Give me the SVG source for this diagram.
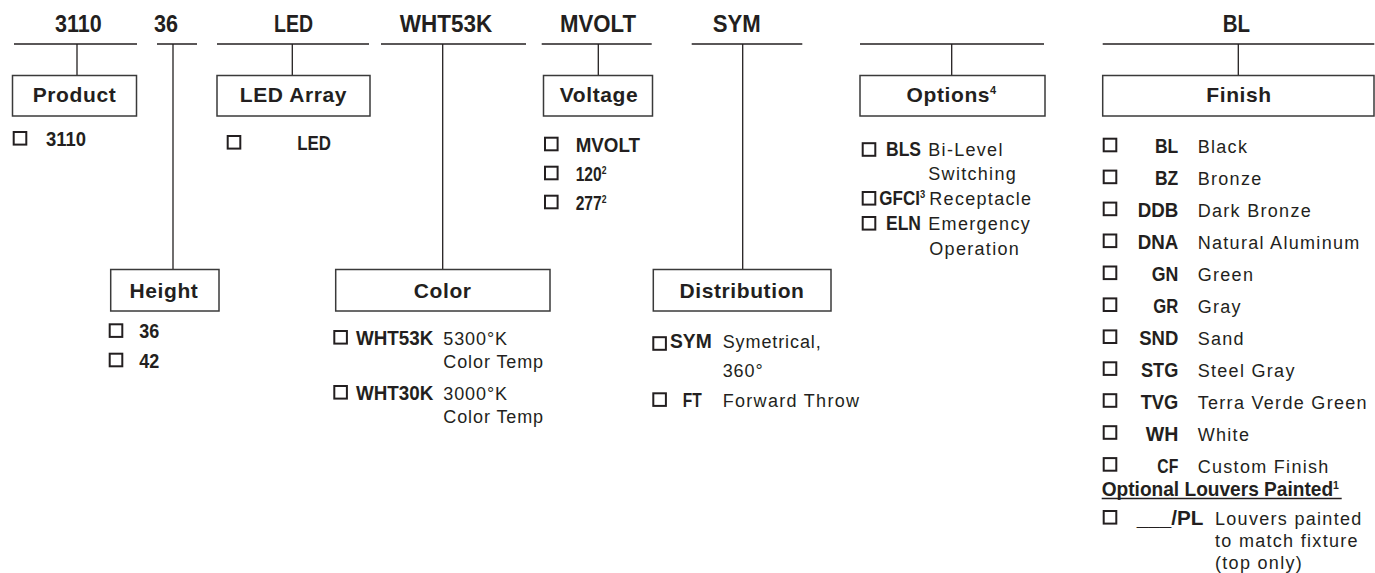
<svg xmlns="http://www.w3.org/2000/svg" width="1375" height="573" viewBox="0 0 1375 573">
<style>
text{font-family:"Liberation Sans",Arial,sans-serif;fill:#231f20}
.hd{font-size:24px;font-weight:bold;text-anchor:middle}
.bx{fill:#fff;stroke:#3a3a3a;stroke-width:1.5}
.bl{font-size:21px;font-weight:bold;text-anchor:middle;letter-spacing:0.6px}
.cb{fill:none;stroke:#231f20;stroke-width:2}
.code{font-size:20px;font-weight:bold}
.codeR{font-size:20px;font-weight:bold;text-anchor:end}
.d{font-size:18px;letter-spacing:1.3px}
.dc{font-size:18px;letter-spacing:0.9px}
.sup{font-size:11px;font-weight:bold}
#connectors line{stroke:#231f20;stroke-width:1.3}
</style>

<g id="connectors">
  <line x1="14" y1="44" x2="137" y2="44"/>
  <line x1="77" y1="44" x2="77" y2="75.5"/>
  <line x1="157" y1="44" x2="197" y2="44"/>
  <line x1="173" y1="44" x2="173" y2="269.5"/>
  <line x1="217" y1="44" x2="369" y2="44"/>
  <line x1="292.3" y1="44" x2="292.3" y2="75.5"/>
  <line x1="381" y1="44" x2="526" y2="44"/>
  <line x1="442.7" y1="44" x2="442.7" y2="269.5"/>
  <line x1="541.7" y1="44" x2="651.7" y2="44"/>
  <line x1="598.3" y1="44" x2="598.3" y2="75.5"/>
  <line x1="691.7" y1="44" x2="802.3" y2="44"/>
  <line x1="742.7" y1="44" x2="742.7" y2="269.5"/>
  <line x1="860" y1="44" x2="1044" y2="44"/>
  <line x1="951.7" y1="44" x2="951.7" y2="75.5"/>
  <line x1="1102.7" y1="44" x2="1374.3" y2="44"/>
  <line x1="1238.3" y1="44" x2="1238.3" y2="75.5"/>
</g>

<g id="headers">
  <text class="hd" x="78.3" y="32" textLength="46.7" lengthAdjust="spacingAndGlyphs">3110</text>
  <text class="hd" x="166" y="32" textLength="24" lengthAdjust="spacingAndGlyphs">36</text>
  <text class="hd" x="293.5" y="32" textLength="39" lengthAdjust="spacingAndGlyphs">LED</text>
  <text class="hd" x="446" y="32" textLength="92.3" lengthAdjust="spacingAndGlyphs">WHT53K</text>
  <text class="hd" x="598" y="32" textLength="76" lengthAdjust="spacingAndGlyphs">MVOLT</text>
  <text class="hd" x="736.7" y="32" textLength="48" lengthAdjust="spacingAndGlyphs">SYM</text>
  <text class="hd" x="1236.3" y="32" textLength="27.3" lengthAdjust="spacingAndGlyphs">BL</text>
</g>

<g id="product">
  <rect class="bx" x="12.5" y="75.5" width="124" height="40.5"/>
  <text class="bl" x="74.5" y="101.7">Product</text>
  <rect class="cb" x="13.7" y="132" width="12.6" height="12.6"/>
  <text class="code" x="46" y="145.7" textLength="40" lengthAdjust="spacingAndGlyphs">3110</text>
</g>

<g id="height">
  <rect class="bx" x="110.7" y="269.5" width="108.3" height="41.5"/>
  <text class="bl" x="164" y="297.7">Height</text>
  <rect class="cb" x="109.7" y="324.3" width="12.6" height="12.6"/>
  <text class="code" x="139.3" y="338.3" textLength="20" lengthAdjust="spacingAndGlyphs">36</text>
  <rect class="cb" x="109.7" y="353.7" width="12.6" height="12.6"/>
  <text class="code" x="139.3" y="367.7" textLength="20" lengthAdjust="spacingAndGlyphs">42</text>
</g>

<g id="led-array">
  <rect class="bx" x="217" y="75.5" width="153" height="40.5"/>
  <text class="bl" x="293.5" y="101.7">LED Array</text>
  <rect class="cb" x="227.7" y="136" width="12.6" height="12.6"/>
  <text class="code" x="297.3" y="150" textLength="33.7" lengthAdjust="spacingAndGlyphs">LED</text>
</g>

<g id="color">
  <rect class="bx" x="335.7" y="269.5" width="214.3" height="41.5"/>
  <text class="bl" x="442.7" y="297.7">Color</text>
  <rect class="cb" x="334.3" y="331" width="12.6" height="12.6"/>
  <text class="code" x="356" y="345" textLength="77.3" lengthAdjust="spacingAndGlyphs">WHT53K</text>
  <text class="dc" x="443.3" y="345">5300°K</text>
  <text class="dc" x="443.3" y="368.3">Color Temp</text>
  <rect class="cb" x="334.3" y="386" width="12.6" height="12.6"/>
  <text class="code" x="356" y="400" textLength="77.3" lengthAdjust="spacingAndGlyphs">WHT30K</text>
  <text class="dc" x="443.3" y="400">3000°K</text>
  <text class="dc" x="443.3" y="423.3">Color Temp</text>
</g>

<g id="voltage">
  <rect class="bx" x="543.5" y="75.5" width="109" height="40.5"/>
  <text class="bl" x="599" y="101.7">Voltage</text>
  <rect class="cb" x="545" y="137.7" width="12.6" height="12.6"/>
  <text class="code" x="575.7" y="151.7" textLength="64.3" lengthAdjust="spacingAndGlyphs">MVOLT</text>
  <rect class="cb" x="545" y="166.7" width="12.6" height="12.6"/>
  <text class="code" transform="translate(575.7 181) scale(0.78 1)">120<tspan class="sup" dy="-7.5">2</tspan></text>
  <rect class="cb" x="545" y="195.7" width="12.6" height="12.6"/>
  <text class="code" transform="translate(575.7 210) scale(0.78 1)">277<tspan class="sup" dy="-7.5">2</tspan></text>
</g>

<g id="distribution">
  <rect class="bx" x="653.3" y="269.5" width="177.7" height="41.5"/>
  <text class="bl" x="742" y="297.7">Distribution</text>
  <rect class="cb" x="653.3" y="337.2" width="12.6" height="12.6"/>
  <text class="code" x="670" y="348.3" textLength="41.7" lengthAdjust="spacingAndGlyphs">SYM</text>
  <text class="dc" x="722.7" y="348.3">Symetrical,</text>
  <text class="dc" x="722.7" y="376.7">360°</text>
  <rect class="cb" x="653.3" y="393.3" width="12.6" height="12.6"/>
  <text class="code" x="682.7" y="406.7" textLength="19" lengthAdjust="spacingAndGlyphs">FT</text>
  <text class="d" x="722.7" y="406.7">Forward Throw</text>
</g>

<g id="options">
  <rect class="bx" x="860" y="75.5" width="185" height="40.5"/>
  <text class="bl" x="951.7" y="101.7">Options<tspan class="sup" dy="-8">4</tspan></text>
  <rect class="cb" x="862.7" y="143.2" width="12.6" height="12.6"/>
  <text class="code" x="886" y="155.7" textLength="35" lengthAdjust="spacingAndGlyphs">BLS</text>
  <text class="d" x="928.3" y="155.7">Bi-Level</text>
  <text class="d" x="928.3" y="180">Switching</text>
  <rect class="cb" x="862.7" y="192" width="12.6" height="12.6"/>
  <text class="code" transform="translate(879.3 205) scale(0.85 1)">GFCI<tspan class="sup" dy="-7.5">3</tspan></text>
  <text class="d" x="929.3" y="205">Receptacle</text>
  <rect class="cb" x="862.7" y="217" width="12.6" height="12.6"/>
  <text class="code" x="886" y="230" textLength="35" lengthAdjust="spacingAndGlyphs">ELN</text>
  <text class="d" x="928.3" y="230">Emergency</text>
  <text class="d" x="929.3" y="255">Operation</text>
</g>

<g id="finish">
  <rect class="bx" x="1102.7" y="75.5" width="271.3" height="40.5"/>
  <text class="bl" x="1239" y="101.7">Finish</text>
  <rect class="cb" x="1103.7" y="138.7" width="12.6" height="12.6"/>
  <text class="codeR" x="1178.3" y="153.3" textLength="23.3" lengthAdjust="spacingAndGlyphs">BL</text>
  <text class="d" x="1197.7" y="153.3">Black</text>
  <rect class="cb" x="1103.7" y="170.6" width="12.6" height="12.6"/>
  <text class="codeR" x="1178.3" y="185.2" textLength="23.3" lengthAdjust="spacingAndGlyphs">BZ</text>
  <text class="d" x="1197.7" y="185.2">Bronze</text>
  <rect class="cb" x="1103.7" y="202.6" width="12.6" height="12.6"/>
  <text class="codeR" x="1178.3" y="217.2" textLength="40.6" lengthAdjust="spacingAndGlyphs">DDB</text>
  <text class="d" x="1197.7" y="217.2">Dark Bronze</text>
  <rect class="cb" x="1103.7" y="234.5" width="12.6" height="12.6"/>
  <text class="codeR" x="1178.3" y="249.1" textLength="40.6" lengthAdjust="spacingAndGlyphs">DNA</text>
  <text class="d" x="1197.7" y="249.1">Natural Aluminum</text>
  <rect class="cb" x="1103.7" y="266.5" width="12.6" height="12.6"/>
  <text class="codeR" x="1178.3" y="281.1" textLength="26.6" lengthAdjust="spacingAndGlyphs">GN</text>
  <text class="d" x="1197.7" y="281.1">Green</text>
  <rect class="cb" x="1103.7" y="298.4" width="12.6" height="12.6"/>
  <text class="codeR" x="1178.3" y="313" textLength="25" lengthAdjust="spacingAndGlyphs">GR</text>
  <text class="d" x="1197.7" y="313">Gray</text>
  <rect class="cb" x="1103.7" y="330.4" width="12.6" height="12.6"/>
  <text class="codeR" x="1178.3" y="345" textLength="39" lengthAdjust="spacingAndGlyphs">SND</text>
  <text class="d" x="1197.7" y="345">Sand</text>
  <rect class="cb" x="1103.7" y="362.3" width="12.6" height="12.6"/>
  <text class="codeR" x="1178.3" y="376.9" textLength="37.3" lengthAdjust="spacingAndGlyphs">STG</text>
  <text class="d" x="1197.7" y="376.9">Steel Gray</text>
  <rect class="cb" x="1103.7" y="394.2" width="12.6" height="12.6"/>
  <text class="codeR" x="1178.3" y="408.8" textLength="37.6" lengthAdjust="spacingAndGlyphs">TVG</text>
  <text class="d" x="1197.7" y="408.8">Terra Verde Green</text>
  <rect class="cb" x="1103.7" y="426.2" width="12.6" height="12.6"/>
  <text class="codeR" x="1178.3" y="440.8" textLength="32.6" lengthAdjust="spacingAndGlyphs">WH</text>
  <text class="d" x="1197.7" y="440.8">White</text>
  <rect class="cb" x="1103.7" y="458.1" width="12.6" height="12.6"/>
  <text class="codeR" x="1178.3" y="472.7" textLength="21" lengthAdjust="spacingAndGlyphs">CF</text>
  <text class="d" x="1197.7" y="472.7">Custom Finish</text>
  <text class="code" transform="translate(1101.7 496) scale(0.956 1)">Optional Louvers Painted<tspan class="sup" dy="-7.5">1</tspan></text>
  <line x1="1101.7" y1="498.5" x2="1341.7" y2="498.5" stroke="#231f20" stroke-width="1.3"/>
  <rect class="cb" x="1103.7" y="511" width="12.6" height="12.6"/>
  <text class="codeR" x="1203.3" y="525" textLength="66.6" lengthAdjust="spacingAndGlyphs">___/PL</text>
  <text class="d" x="1215" y="525">Louvers painted</text>
  <text class="d" x="1215" y="546.7">to match fixture</text>
  <text class="d" x="1215" y="569.3">(top only)</text>
</g>
</svg>
